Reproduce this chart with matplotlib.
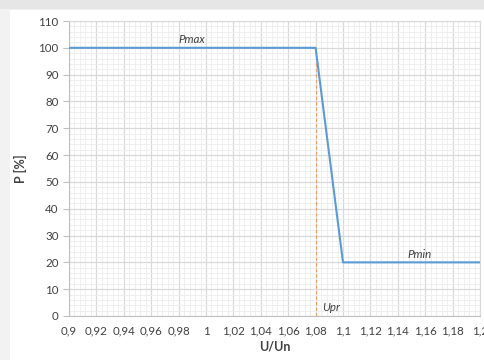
import matplotlib
matplotlib.use("Agg")
import matplotlib.pyplot as plt
from matplotlib.patches import Rectangle
from matplotlib.ticker import MultipleLocator, FuncFormatter

# characteristic P(U/Un)
u_pts = [0.9, 1.08, 1.1, 1.2]
p_pts = [100, 100, 20, 20]
u_pr = 1.08
x_ticks = [0.9 + 0.02 * i for i in range(16)]
y_ticks = list(range(0, 111, 10))

plt.rcParams["font.family"] = ["Lato", "DejaVu Sans"]
BLUE = "#5b9bd5"; ORANGE = "#f4a06a"; GRIDC = "#d9d9d9"; MINC = "#ececec"; TXT = "#404040"

fig = plt.figure(figsize=(4.85, 3.6), dpi=100)
fig.patch.set_facecolor("#f2f2f2")
# white sheet of the screenshot
fig.patches.append(Rectangle((10 / 485, 0), 1, 1 - 10 / 360, transform=fig.transFigure,
                             facecolor="white", edgecolor="none", zorder=-10))
fig.patches.append(Rectangle((0, 1 - 9 / 360), 1, 9 / 360, transform=fig.transFigure,
                             facecolor="#e6e6e6", edgecolor="none", zorder=-10))

ax = fig.add_axes([69 / 485, 1 - 316 / 360, (480 - 69) / 485, (316 - 21) / 360])
ax.set_facecolor("white")
ax.set_xlim(0.9, 1.2); ax.set_ylim(0, 110)
ax.set_xticks(x_ticks); ax.set_yticks(y_ticks)
ax.xaxis.set_minor_locator(MultipleLocator(0.004))
ax.yaxis.set_minor_locator(MultipleLocator(2))
ax.grid(True, which="major", color=GRIDC, lw=0.9)
ax.grid(True, which="minor", color=MINC, lw=0.6)
ax.set_axisbelow(True)

def fmt(v, pos):
    s = f"{v:.2f}".rstrip("0").rstrip(".")
    return s.replace(".", ",")
ax.xaxis.set_major_formatter(FuncFormatter(fmt))
ax.tick_params(axis="both", which="major", labelsize=8.3, colors=TXT, length=4, color="#bfbfbf")
ax.tick_params(axis="x", which="major", length=0, pad=7)
ax.tick_params(which="minor", length=0)
for s in ax.spines.values():
    s.set_color(GRIDC)
ax.spines["left"].set_color("#bfbfbf"); ax.spines["bottom"].set_color("#bfbfbf")

ax.plot([u_pr, u_pr], [0, 100], color=ORANGE, lw=0.8, ls=(0, (3, 2)), zorder=3)
ax.plot(u_pts, p_pts, color=BLUE, lw=1.5, zorder=4)

ax.text(0.99, 101, "Pmax", fontsize=8.3, style="italic", color=TXT, ha="center", va="bottom")
ax.text(1.156, 21, "Pmin", fontsize=8.3, style="italic", color=TXT, ha="center", va="bottom")
ax.text(1.091, 1, "Upr", fontsize=8.3, style="italic", color=TXT, ha="center", va="bottom")

ax.set_xlabel("U/Un", fontsize=9, fontweight="bold", color=TXT, labelpad=3)
ax.set_ylabel("P [%]", fontsize=9, fontweight="bold", color=TXT, labelpad=8)

fig.savefig("out.png", dpi=100, facecolor=fig.get_facecolor())
